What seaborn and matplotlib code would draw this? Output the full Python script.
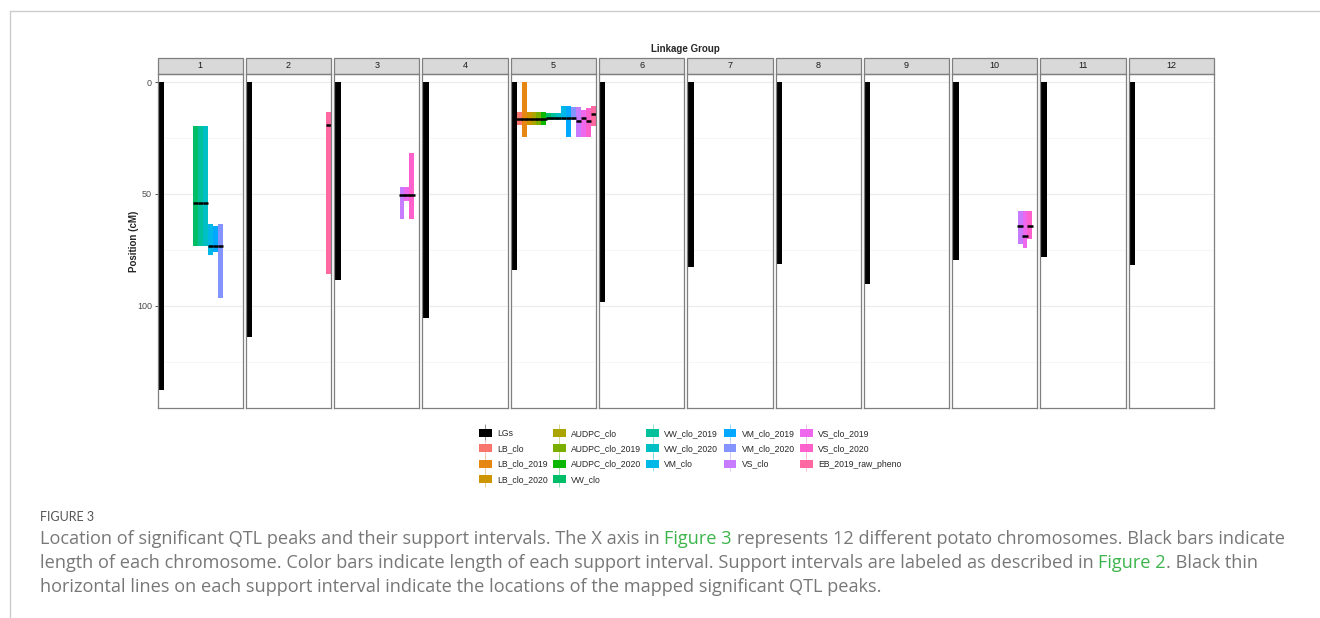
import seaborn as sns
import matplotlib.pyplot as plt
from matplotlib.patches import Rectangle, Patch
from matplotlib.lines import Line2D

# traits in legend order; LGs = whole chromosome bar
traits = ['LGs', 'LB_clo', 'LB_clo_2019', 'LB_clo_2020', 'AUDPC_clo', 'AUDPC_clo_2019',
          'AUDPC_clo_2020', 'VW_clo', 'VW_clo_2019', 'VW_clo_2020', 'VM_clo', 'VM_clo_2019',
          'VM_clo_2020', 'VS_clo', 'VS_clo_2019', 'VS_clo_2020', 'EB_2019_raw_pheno']
trait_colors = ['#000000', '#F8766D', '#E68613', '#CD9600', '#ABA300', '#7CAE00', '#0CB702',
                '#00BE67', '#00C19A', '#00BFC4', '#00B8E7', '#00A9FF', '#8494FF', '#C77CFF',
                '#ED68ED', '#FF61CC', '#FF68A1']

lg_names = ['1', '2', '3', '4', '5', '6', '7', '8', '9', '10', '11', '12']
lg_lengths = [137.8, 114.1, 88.4, 105.7, 84.0, 98.3, 82.8, 81.5, 90.3, 79.5, 78.4, 82.0]

# support intervals (cM) and peaks
qtl_lg = ['1', '1', '1', '1', '1', '1',
          '2',
          '3', '3', '3',
          '5', '5', '5', '5', '5', '5', '5', '5', '5', '5', '5', '5', '5', '5', '5', '5',
          '10', '10', '10']
qtl_trait = ['VW_clo', 'VW_clo_2019', 'VW_clo_2020', 'VM_clo', 'VM_clo_2019', 'VM_clo_2020',
             'EB_2019_raw_pheno',
             'VS_clo', 'VS_clo_2019', 'VS_clo_2020',
             'LB_clo', 'LB_clo_2019', 'LB_clo_2020', 'AUDPC_clo', 'AUDPC_clo_2019',
             'AUDPC_clo_2020', 'VW_clo', 'VW_clo_2019', 'VW_clo_2020', 'VM_clo', 'VM_clo_2019',
             'VM_clo_2020', 'VS_clo', 'VS_clo_2019', 'VS_clo_2020', 'EB_2019_raw_pheno',
             'VS_clo', 'VS_clo_2019', 'VS_clo_2020']
qtl_start = [19.6, 19.6, 19.6, 63.3, 64.5, 63.3,
             13.4,
             46.9, 46.9, 31.5,
             13.4, 0.0, 13.4, 13.4, 13.4, 13.4, 13.6, 13.6, 13.6, 10.5, 10.5, 11.2, 11.2, 12.4,
             11.7, 10.5,
             57.6, 57.6, 57.6]
qtl_end = [73.3, 73.3, 73.3, 77.5, 76.0, 96.4,
           86.0,
           61.2, 53.0, 61.2,
           19.0, 24.6, 19.0, 19.0, 19.0, 19.0, 16.9, 16.9, 16.9, 16.9, 24.6, 16.9, 24.6, 24.6,
           24.6, 19.4,
           72.4, 74.3, 70.1]
qtl_peak = [54.0, 54.0, 54.0, 73.1, 73.1, 73.1,
            19.1,
            50.4, 50.4, 50.4,
            16.6, 16.6, 16.6, 16.6, 16.6, 16.6, 15.8, 15.8, 15.8, 15.8, 15.8, 15.8, 17.2, 16.2,
            17.2, 14.2,
            64.2, 68.8, 64.2]

sns.set_style('white')
plt.rcParams['font.family'] = ['Liberation Sans', 'DejaVu Sans']

W, H = 1320, 618
fig, axes = plt.subplots(1, 12, figsize=(W / 100, H / 100), dpi=100, sharey=True)
fig.subplots_adjust(left=157.5 / W, right=1214 / W, top=1 - 74 / H, bottom=1 - 408 / H,
                    wspace=0.036)

palette = dict(zip(traits, trait_colors))
slot = {t: i for i, t in enumerate(traits)}

for ax, lg, length in zip(axes, lg_names, lg_lengths):
    ax.set_ylim(145.8, -3.7)
    ax.set_xlim(-0.7, 16.5)
    ax.set_yticks([0, 50, 100])
    ax.set_yticks([25, 75, 125], minor=True)
    ax.grid(True, axis='y', which='major', color='#ebebeb', lw=0.8)
    ax.grid(True, axis='y', which='minor', color='#f3f3f3', lw=0.5)
    ax.grid(False, axis='x')
    ax.set_axisbelow(True)
    ax.set_xticks([])
    for s in ax.spines.values():
        s.set_color('#7f7f7f')
        s.set_linewidth(0.9)

    ax.bar(0, length, bottom=0, width=1.2, color='black', linewidth=0)
    for i in range(len(qtl_lg)):
        if qtl_lg[i] != lg:
            continue
        x = slot[qtl_trait[i]]
        ax.bar(x, qtl_end[i] - qtl_start[i], bottom=qtl_start[i], width=1,
               color=palette[qtl_trait[i]], linewidth=0)
    for i in range(len(qtl_lg)):
        if qtl_lg[i] != lg:
            continue
        x = slot[qtl_trait[i]]
        ax.hlines(qtl_peak[i], x - 0.55, x + 0.55, color='black', lw=1.8)

    # facet strip
    ax.add_patch(Rectangle((0, 1), 1, 16 / 334, transform=ax.transAxes, clip_on=False,
                           facecolor='#d9d9d9', edgecolor='#7f7f7f', lw=0.9))
    ax.text(0.5, 1 + 8 / 334, lg, transform=ax.transAxes, ha='center', va='center',
            fontsize=6.5, color='#1a1a1a')

axes[0].tick_params(axis='y', which='major', left=True, length=2, width=0.6,
                    color='#333333', labelsize=6.5, labelcolor='#4d4d4d', pad=2)
axes[0].tick_params(axis='y', which='minor', left=False)
for ax in axes[1:]:
    ax.tick_params(axis='y', which='both', left=False, labelleft=False)

fig.text(685.5 / W, 1 - 49 / H, 'Linkage Group', ha='center', va='center',
         fontsize=7, fontweight='bold')
fig.text(134 / W, 1 - 241 / H, 'Position (cM)', rotation=90, ha='center', va='center',
         fontsize=7, fontweight='bold')

handles = [(Patch(facecolor=c, edgecolor='none'),
            Line2D([], [], marker='|', markersize=11, markeredgewidth=0.6, color=c,
                   linestyle='none', alpha=0.5))
           for c in trait_colors]
fig.legend(handles, traits, ncol=5, loc='upper center', bbox_to_anchor=(690 / W, 1 - 421 / H),
           frameon=False, fontsize=6.2, handlelength=1.5, handleheight=1.0,
           handletextpad=0.6, columnspacing=0.6, labelspacing=0.75)

# card frame
fig.add_artist(Line2D([10.5 / W, 10.5 / W], [0, 1 - 11 / H], color='#cccccc', lw=1))
fig.add_artist(Line2D([10.5 / W, 1], [1 - 11 / H, 1 - 11 / H], color='#cccccc', lw=1))

# caption
fig.text(40 / W, 1 - 521 / H, 'FIGURE 3', fontsize=9, color='#555555', family='Lato',
         va='baseline')

cap_font = dict(fontsize=13.1, family='Open Sans', va='baseline')
grey, green = '#777777', '#3cb44b'
cap_lines = [
    [('Location of significant QTL peaks and their support intervals. The X axis in ', grey),
     ('Figure 3', green),
     (' represents 12 different potato chromosomes. Black bars indicate', grey)],
    [('length of each chromosome. Color bars indicate length of each support interval. '
      'Support intervals are labeled as described in ', grey),
     ('Figure 2', green),
     ('. Black thin', grey)],
    [('horizontal lines on each support interval indicate the locations of the mapped '
      'significant QTL peaks.', grey)],
]

renderer = fig.canvas.get_renderer()


def text_width(s):
    t = fig.text(0, 0, s, **cap_font)
    w = t.get_window_extent(renderer).width
    t.remove()
    return w


space_w = text_width('a a') - text_width('aa')
for k, parts in enumerate(cap_lines):
    y = 1 - (544 + 24 * k) / H
    x = 40.0
    for txt, col in parts:
        if txt.startswith(' '):
            x += space_w
        t = fig.text(x / W, y, txt.strip(), color=col, **cap_font)
        x = t.get_window_extent(renderer).x1
        if txt.endswith(' '):
            x += space_w

plt.savefig('out.png', dpi=100)
